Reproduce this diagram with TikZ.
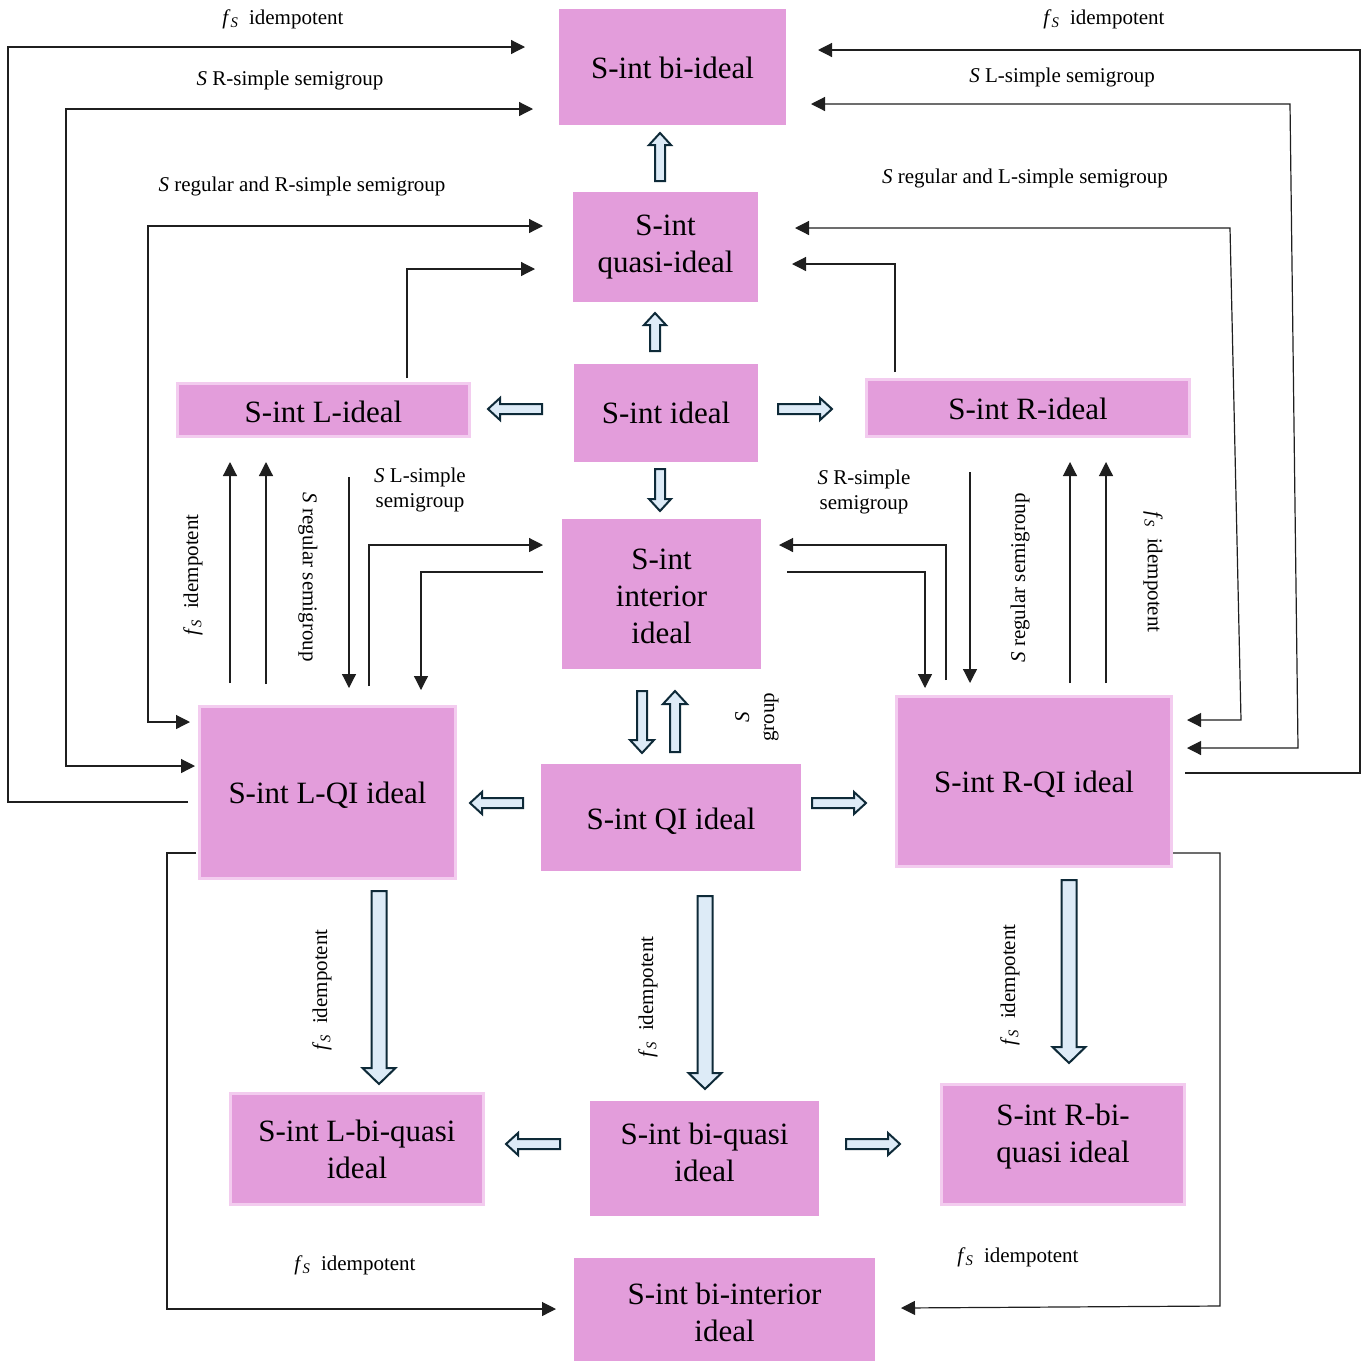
\documentclass[tikz,border=0pt]{standalone}
\usepackage{fontspec}
\setmainfont{Liberation Serif}
\usetikzlibrary{arrows.meta}
\definecolor{boxpink}{HTML}{E39DDB}
\definecolor{rimpink}{HTML}{F3CCEF}
\definecolor{afill}{HTML}{DDEBF7}
\definecolor{aline}{HTML}{0E2A38}
\newcommand{\fsub}{\textit{f}\textsubscript{\textit{S}}}
\tikzset{
  pics/barrow/.style n args={4}{code={
    \draw[fill=afill, draw=aline, line width=2pt, line join=miter]
      (0,-#2) -- ({#1-#4},-#2) -- ({#1-#4},-#3) -- (#1,0) -- ({#1-#4},#3) -- ({#1-#4},#2) -- (0,#2) -- cycle;}}
}
\begin{document}
\begin{tikzpicture}[x=1pt,y=-1pt,
  box/.style={fill=boxpink, draw=none, inner sep=0pt},
  rbox/.style={box, draw=rimpink, line width=3pt},
  boxtxt/.style={inner sep=0pt, align=center, font=\fontsize{31}{37}\selectfont},
  lbl/.style={inner sep=0pt, align=center, font=\fontsize{21}{25}\selectfont},
  conn/.style={line width=1.2pt, draw=black!88},
  >={Triangle[length=14pt,width=14pt]}]
\useasboundingbox (0,0) rectangle (1365,1361);

% boxes
\node[box, minimum width=227, minimum height=116, label={[boxtxt, yshift=-1pt]center:S-int bi-ideal}] (bi) at (672.5,67) {};
\node[box, minimum width=185, minimum height=110, label={[boxtxt]center:S-int\\quasi-ideal}] (quasi) at (665.5,247) {};
\node[box, minimum width=184, minimum height=98, label={[boxtxt]center:S-int ideal}] (ideal) at (666,413) {};
\node[rbox, minimum width=292, minimum height=53, label={[boxtxt, yshift=-2pt]center:S-int L-ideal}] (Lid) at (323.5,410) {};
\node[rbox, minimum width=323, minimum height=57, label={[boxtxt, yshift=-1pt]center:S-int R-ideal}] (Rid) at (1028,408) {};
\node[box, minimum width=199, minimum height=150, label={[boxtxt, yshift=-2pt]center:S-int\\interior\\ideal}] (int) at (661.5,594) {};
\node[box, minimum width=260, minimum height=107, label={[boxtxt, yshift=-4pt]center:S-int QI ideal}] (QI) at (671,817.5) {};
\node[rbox, minimum width=256, minimum height=172, label={[boxtxt, yshift=-3pt]center:S-int L-QI ideal}] (LQI) at (327.5,792.5) {};
\node[rbox, minimum width=275, minimum height=170, label={[boxtxt, yshift=-3pt]center:S-int R-QI ideal}] (RQI) at (1034,781.5) {};
\node[rbox, minimum width=253, minimum height=111, label={[boxtxt]center:S-int L-bi-quasi\\ideal}] (Lbq) at (357,1149) {};
\node[box, minimum width=229, minimum height=115, label={[boxtxt, yshift=6pt]center:S-int bi-quasi\\ideal}] (bq) at (704.5,1158.5) {};
\node[rbox, minimum width=243, minimum height=120, label={[boxtxt, yshift=8pt]center:S-int R-bi-\\quasi ideal}] (Rbq) at (1063,1144.5) {};
\node[box, minimum width=301, minimum height=103, label={[boxtxt, yshift=-3pt]center:S-int bi-interior\\ideal}] (bint) at (724.5,1309.5) {};

% block arrows
\pic[rotate=90] at (660,181) {barrow={48}{5}{11}{12}};
\pic[rotate=90] at (655,351) {barrow={38}{5}{11}{12}};
\pic[rotate=180] at (542,409) {barrow={54}{5}{11}{12}};
\pic at (778,409) {barrow={54}{5}{11}{12}};
\pic[rotate=-90] at (660,469) {barrow={42}{5}{11}{12}};
\pic[rotate=-90] at (642,691) {barrow={62}{5}{12}{13}};
\pic[rotate=90] at (675,752) {barrow={61}{5}{12}{13}};
\pic[rotate=180] at (523,803) {barrow={53}{5}{11}{12}};
\pic at (812,803) {barrow={54}{5}{11}{12}};
\pic[rotate=-90] at (379,891) {barrow={193}{7.5}{16.5}{16}};
\pic[rotate=-90] at (705,896) {barrow={193}{7.5}{16.5}{16}};
\pic[rotate=-90] at (1069,880) {barrow={183}{7.5}{16.5}{16}};
\pic[rotate=180] at (560,1144) {barrow={54}{5}{11}{12}};
\pic at (846,1144) {barrow={54}{5}{11}{12}};

% thin connectors, top left
\draw[conn,->] (188,802) -- (8,802) -- (8,47) -- (525,47);
\draw[conn,<->] (195,766) -- (66,766) -- (66,109) -- (533,109);
\draw[conn,<->] (190,722) -- (148,722) -- (148,226) -- (543,226);
\draw[conn,->] (407,378) -- (407,269) -- (535,269);
% top right
\draw[conn,->] (1185,773) -- (1360,773) -- (1360,50) -- (818,50);
\draw[conn,<->] (1187,748) -- (1298,748) -- (1290,104) -- (811,104);
\draw[conn,<->] (1187,720) -- (1241,720) -- (1230,228) -- (795,228);
\draw[conn,->] (895,372) -- (895,264) -- (792,264);
% middle left
\draw[conn,->] (230,683) -- (230,462);
\draw[conn,->] (266,684) -- (266,462);
\draw[conn,->] (349,477) -- (349,688);
\draw[conn,->] (369,686) -- (369,545) -- (543,545);
\draw[conn,->] (543,572) -- (421,572) -- (421,690);
% middle right
\draw[conn,->] (946,680) -- (946,545) -- (779,545);
\draw[conn,->] (787,572) -- (925,572) -- (925,688);
\draw[conn,->] (970,472) -- (970,683);
\draw[conn,->] (1070,683) -- (1070,462);
\draw[conn,->] (1106,683) -- (1106,462);
% bottom
\draw[conn,->] (196,853) -- (167,853) -- (167,1309) -- (556,1309);
\draw[conn,->] (1173,853) -- (1220,853) -- (1220,1306) -- (901,1308);

% labels
\node[lbl] (t1) at (283,19) {\fsub\ \ idempotent};
\node[lbl] (t2) at (290,80) {\textit{S} R-simple semigroup};
\node[lbl] (t3) at (302,186) {\textit{S} regular and R-simple semigroup};
\node[lbl] (t4) at (1104,19) {\fsub\ \ idempotent};
\node[lbl] (t5) at (1062,77) {\textit{S} L-simple semigroup};
\node[lbl] (t6) at (1025,178) {\textit{S} regular and L-simple semigroup};
\node[lbl] (t7) at (420,490) {\textit{S} L-simple\\semigroup};
\node[lbl] (t8) at (864,492) {\textit{S} R-simple\\semigroup};
\node[lbl, rotate=90] (t9) at (193,575) {\fsub\ \ idempotent};
\node[lbl, rotate=-90] (t10) at (308,577) {\textit{S} regular semigroup};
\node[lbl, rotate=90] (t11) at (1020,578) {\textit{S} regular semigroup};
\node[lbl, rotate=-90] (t12) at (1153,572) {\fsub\ \ idempotent};
\node[lbl, rotate=90] (t13) at (757,717) {\textit{S}\\group};
\node[lbl, rotate=90] (t14) at (322,990) {\fsub\ \ idempotent};
\node[lbl, rotate=90] (t15) at (648,997) {\fsub\ \ idempotent};
\node[lbl, rotate=90] (t16) at (1010,985) {\fsub\ \ idempotent};
\node[lbl] (t17) at (355,1265) {\fsub\ \ idempotent};
\node[lbl] (t18) at (1018,1257) {\fsub\ \ idempotent};
\end{tikzpicture}
\end{document}
